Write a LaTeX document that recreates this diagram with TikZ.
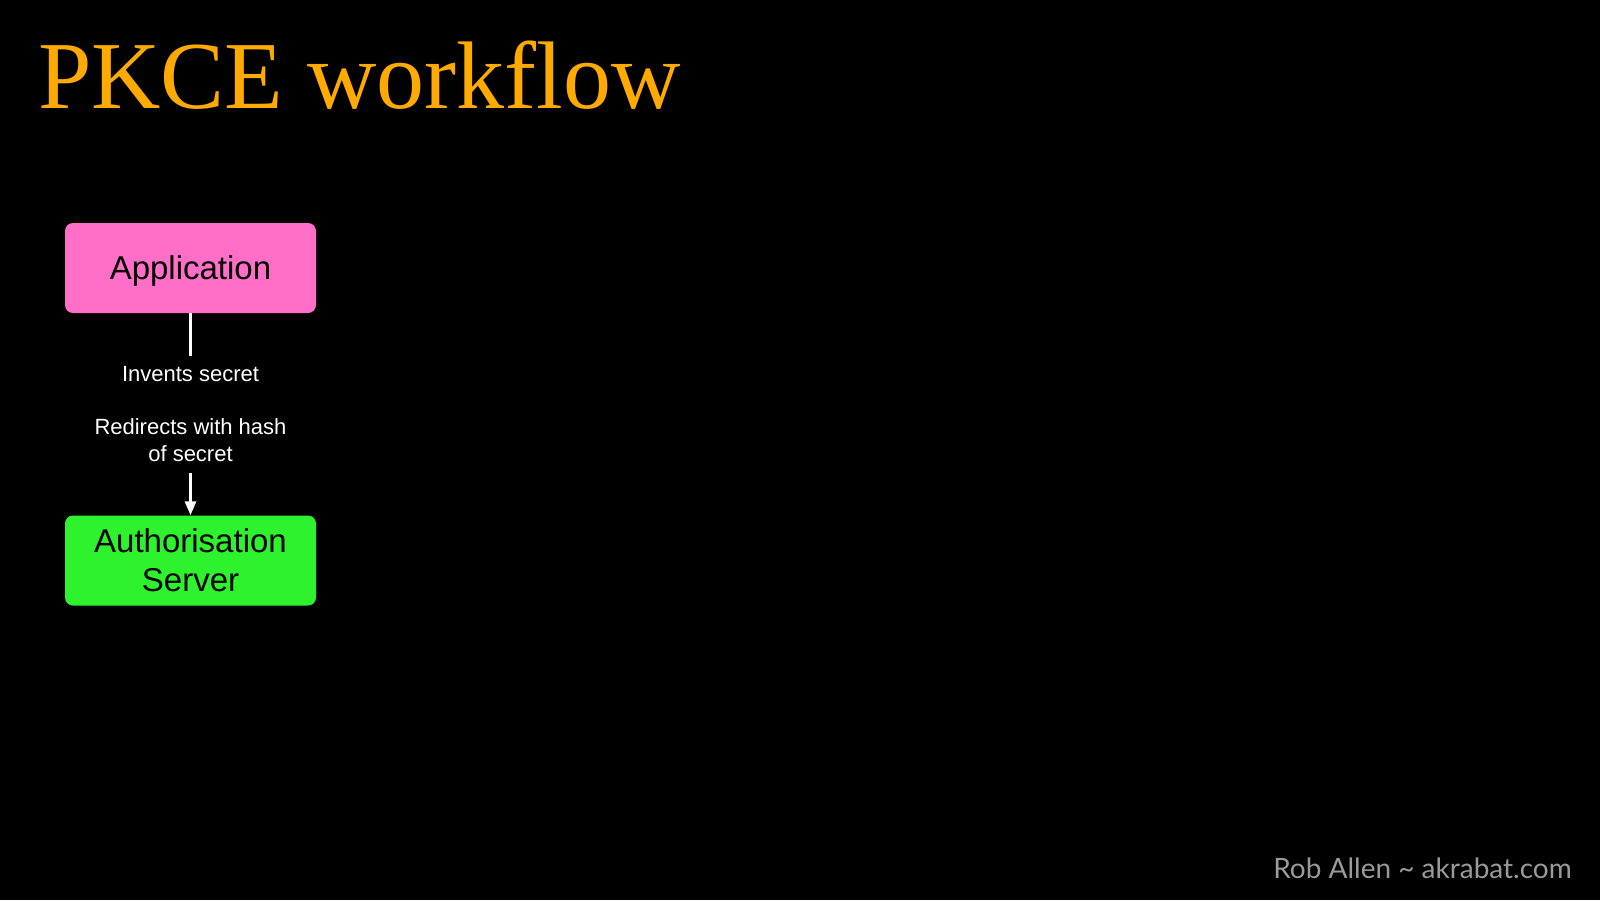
\documentclass[tikz,border=0pt]{standalone}
\usepackage{fontspec}
\setmainfont{Liberation Serif}
\setsansfont{Liberation Sans}
\newfontfamily\latofont{Lato}
\usetikzlibrary{arrows.meta}

\definecolor{titleorange}{HTML}{FFAA00}
\definecolor{apppink}{HTML}{FF6EC7}
\definecolor{servergreen}{HTML}{2EF22E}
\definecolor{creditgrey}{HTML}{9A9A9A}

\tikzset{
	box/.style={rectangle, rounded corners=8pt, minimum width=251pt, minimum height=90pt,
		inner sep=0pt, align=center, text=black,
		font=\sffamily\fontsize{33}{39}\selectfont},
	flow/.style={-{Triangle[width=11pt,length=14pt]}, line width=3pt, white},
	flowlabel/.style={fill=black, text=white, align=center, inner xsep=2pt, inner ysep=11pt,
		font=\sffamily\fontsize{22}{26.5}\selectfont}
}

\begin{document}
\begin{tikzpicture}[x=1pt, y=-1pt]
		\fill[black] (0,0) rectangle (1600,900);
		\useasboundingbox (0,0) rectangle (1600,900);

		\node[anchor=base west, inner sep=0pt, text=titleorange,
			font=\fontsize{96}{115}\selectfont] (title) at (38,108) {PKCE workflow};

		\node[box, fill=apppink, text depth=0pt] (app) at (190.5,268) {Application};
		\node[box, fill=servergreen] (srv) at (190.5,560.5) {Authorisation\\Server};

		\draw[flow] (app) -- (srv)
			node[flowlabel, midway] (steps) {Invents secret\\ \\Redirects with hash\\of secret};

		\node[anchor=base east, inner sep=0pt, text=creditgrey,
			font=\latofont\fontsize{28}{33}\selectfont] (credit) at (1572,878) {Rob Allen \textasciitilde{} akrabat.com};
	\end{tikzpicture}
\end{document}
